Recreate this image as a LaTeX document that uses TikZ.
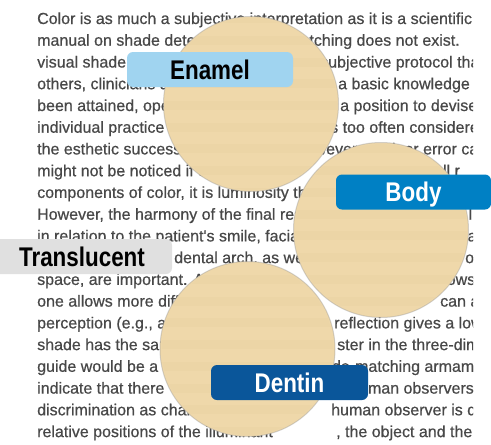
\documentclass[tikz,border=0pt]{standalone}
\usepackage{fontspec}
\setmainfont{Liberation Sans}
\newfontfamily\pagefont[FakeBold=0.6]{Liberation Sans}
\newfontfamily\labelfont[FakeStretch=0.83]{Liberation Sans}
\definecolor{pagetext}{RGB}{72,72,72}
\definecolor{lens}{RGB}{239,216,170}
\definecolor{lensband}{RGB}{226,200,150}
\definecolor{enamelc}{RGB}{160,212,240}
\definecolor{bodyc}{RGB}{0,128,196}
\definecolor{transc}{RGB}{224,224,224}
\definecolor{dentinc}{RGB}{10,86,154}
\tikzset{
  txt/.style={anchor=base west, inner sep=0pt, text=pagetext, font=\pagefont\fontsize{16}{16}\selectfont},
  lensdisk/.style={circle, fill=lens, draw=black!40, draw opacity=0.4, line width=1pt, minimum size=175pt, inner sep=0pt},
  tag/.style={rounded corners=6pt, inner sep=0pt, text height=19.4pt, text depth=0pt, minimum height=35pt,
    font=\labelfont\bfseries\fontsize{27}{27}\selectfont, align=center},
}
\begin{document}
\begin{tikzpicture}[x=1pt,y=-1pt]
\useasboundingbox (0,0) rectangle (491,445);
\fill[white] (0,0) rectangle (491,445);
% page text
\begin{scope}
\clip (0,0) rectangle (473,445);
\node[txt] (l1) at (37,24) {Color is as much a subjective interpretation as it is a scientific};
\node[txt] (l2a) at (37,45.7) {manual on shade determination and};
\node[txt] (l2b) at (287,45.7) {matching does not exist.};
\node[txt] (l3a) at (37,67.5) {visual shade matching};
\node[txt] (l3b) at (320,67.5) {subjective protocol that};
\node[txt] (l4a) at (37,89.2) {others, clinicians are able};
\node[txt] (l4b) at (338,89.2) {a basic knowledge};
\node[txt] (l5a) at (37,111) {been attained, operators should};
\node[txt] (l5b) at (340,111) {a position to devise};
\node[txt] (l6a) at (37,132.7) {individual practice guidelines};
\node[txt] (l6b) at (330,132.7) {s too often considered};
\node[txt] (l7a) at (37,154.4) {the esthetic success of a};
\node[txt] (l7b) at (294,154.4) {However, a minor error can};
\node[txt] (l8a) at (37,176.2) {might not be noticed if other};
\node[txt] (l8b) at (434,176.2) {all r};
\node[txt] (l9) at (37,197.9) {components of color, it is luminosity that};
\node[txt] (l10a) at (37,219.7) {However, the harmony of the final result};
\node[txt] (l10b) at (468.5,219.7) {l};
\node[txt] (l11a) at (37,241.4) {in relation to the patient's smile, facial and};
\node[txt] (l11b) at (467.5,241.4) {a};
\node[txt] (l12a) at (174,263.1) {dental arch, as well as the};
\node[txt] (l12b) at (465,263.1) {o};
\node[txt] (l13a) at (37,284.9) {space, are important. As};
\node[txt] (l13b) at (443,284.9) {lows};
\node[txt] (l14a) at (37,306.6) {one allows more difficult};
\node[txt] (l14b) at (440,306.6) {can a};
\node[txt] (l15a) at (37,328.4) {perception (e.g., a};
\node[txt] (l15b) at (334,328.4) {reflection gives a lower};
\node[txt] (l16a) at (37,350.1) {shade has the same};
\node[txt] (l16b) at (337,350.1) {ster in the three-dimensional};
\node[txt] (l17a) at (37,371.8) {guide would be a shade};
\node[txt] (l17b) at (306,371.8) {shade-matching armamentarium};
\node[txt] (l18a) at (37,393.6) {indicate that there};
\node[txt] (l18b) at (350,393.6) {human observers};
\node[txt] (l19a) at (37,415.3) {discrimination as characteristics};
\node[txt] (l19b) at (331,415.3) {human observer is dependent};
\node[txt] (l20a) at (37,437.1) {relative positions of the illuminant};
\node[txt] (l20b) at (336,437.1) {, the object and the observer};
\end{scope}
% lenses
\node[lensdisk] (enamelLens) at (251,104) {};
\node[lensdisk] (bodyLens) at (381,230) {};
\node[lensdisk] (dentinLens) at (247.5,349) {};
\foreach \cx/\cy in {251/104, 381/230, 247.5/349}{
  \begin{scope}
    \clip (\cx,\cy) circle[radius=86pt];
    \foreach \b in {24,45.7,67.5,89.2,111,132.7,154.4,176.2,197.9,219.7,241.4,263.1,284.9,306.6,328.4,350.1,371.8,393.6,415.3,437.1}{
      \fill[lensband, opacity=0.16] (\cx-90,\b-10) rectangle (\cx+90,\b-1);
    }
  \end{scope}
}
% labels
\node[tag, fill=enamelc, text=black, minimum width=166pt] (enamel) at (210,69.5) {Enamel};
\node[tag, fill=bodyc, text=white, minimum width=155pt] (body) at (413.5,192) {Body};
\node[tag, fill=transc, text=black, minimum width=178pt] (transl) at (83,256.5) {};
\node[anchor=center, inner sep=0pt, text height=19.4pt, text depth=0pt, font=\labelfont\bfseries\fontsize{27}{27}\selectfont] (transltext) at (82,256.5) {Translucent};
\node[tag, fill=dentinc, text=white, minimum width=157pt] (dentin) at (289.5,382.5) {Dentin};
\end{tikzpicture}
\end{document}
